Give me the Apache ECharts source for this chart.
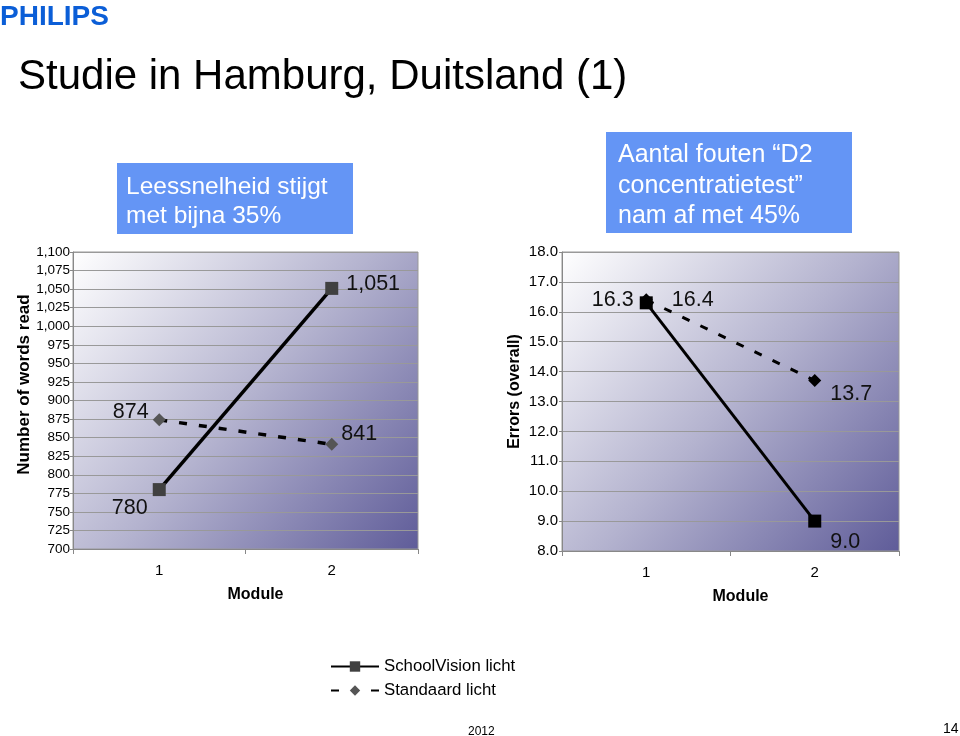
<!DOCTYPE html>
<html><head><meta charset="utf-8">
<script src="https://cdn.jsdelivr.net/npm/echarts@6/dist/echarts.min.js"></script>
<style>html,body{margin:0;padding:0;background:#fff}#c{width:960px;height:736px}</style>
</head><body><div id="c"></div>
<script>
const modules = ['1', '2'];
const seriesNames = ['SchoolVision licht', 'Standaard licht'];
const wordsSchoolVision = [780, 1051];
const wordsStandaard = [874, 841];
const errorsSchoolVision = [16.3, 9.0];
const errorsStandaard = [16.4, 13.7];

const FONT = '"Liberation Sans", Arial, sans-serif';
const chart = echarts.init(document.getElementById('c'));
const bg = new echarts.graphic.LinearGradient(0, 0, 1, 1, [
  {offset: 0, color: '#ffffff'}, {offset: 0.5, color: '#b4b3cf'}, {offset: 1, color: '#5f5c99'}
]);
function fmtThousands(v) { return String(v).replace(/\B(?=(\d{3})+(?!\d))/g, ','); }
function pts(values, offsets, fmt) {
  return values.map((v, i) => ({value: v, label: {position: offsets[i], formatter: () => fmt(v)}}));
}
const labelBase = {show: true, fontSize: 21.5, color: '#111', fontFamily: FONT};

const catAxis = (gi) => ({
  type: 'category', gridIndex: gi, data: modules, boundaryGap: true,
  name: 'Module', nameLocation: 'middle', nameGap: 38,
  nameTextStyle: {fontSize: 16, fontWeight: 'bold', color: '#000', fontFamily: FONT, padding: [0, 0, 0, 20]},
  axisLine: {lineStyle: {color: '#888'}}, axisTick: {show: true, lineStyle: {color: '#888'}},
  axisLabel: {fontSize: 15, color: '#000', margin: 14, fontFamily: FONT},
  splitLine: {show: false}
});

chart.setOption({
  animation: false,
  textStyle: {fontFamily: FONT},
  title: [
    {text: 'PHILIPS', left: 0, top: 3, padding: 0, textStyle: {fontSize: 28, fontWeight: 'bold', color: '#0b5ed7', fontFamily: FONT}},
    {text: 'Studie in Hamburg, Duitsland (1)', left: 18, top: 56, padding: 0, textStyle: {fontSize: 42, fontWeight: 'normal', color: '#000', fontFamily: FONT}},
    {text: '2012', left: 468, top: 726, padding: 0, textStyle: {fontSize: 12, fontWeight: 'normal', color: '#000', fontFamily: FONT}},
    {text: '14', left: 943, top: 722, padding: 0, textStyle: {fontSize: 14, fontWeight: 'normal', color: '#000', fontFamily: FONT}}
  ],
  graphic: [
    {type: 'rect', shape: {x: 117, y: 163, width: 236, height: 71}, style: {fill: '#6495f5'}},
    {type: 'text', x: 126, y: 173, style: {text: 'Leessnelheid stijgt\nmet bijna 35%', fill: '#fff', fontSize: 24.5, lineHeight: 29, fontFamily: FONT}},
    {type: 'rect', shape: {x: 606, y: 132, width: 246, height: 101}, style: {fill: '#6495f5'}},
    {type: 'text', x: 618, y: 140, style: {text: 'Aantal fouten \u201cD2\nconcentratietest\u201d\nnam af met 45%', fill: '#fff', fontSize: 25, lineHeight: 30.5, fontFamily: FONT}}
  ],
  legend: {
    orient: 'vertical', left: 325, top: 653, itemWidth: 48, itemHeight: 13, itemGap: 7,
    data: seriesNames,
    textStyle: {fontSize: 16.8, color: '#000', fontFamily: FONT}
  },
  grid: [
    {left: 73, top: 252, width: 345, height: 297, show: true, backgroundColor: bg, borderColor: '#999', borderWidth: 1},
    {left: 562, top: 252, width: 337, height: 299, show: true, backgroundColor: bg, borderColor: '#999', borderWidth: 1}
  ],
  xAxis: [catAxis(0), catAxis(1)],
  yAxis: [
    {type: 'value', gridIndex: 0, min: 700, max: 1100, interval: 25,
     name: 'Number of words read', nameLocation: 'middle', nameGap: 38,
     nameTextStyle: {fontSize: 17, fontWeight: 'bold', color: '#000', fontFamily: FONT, padding: [0, 0, 0, 32]},
     axisLine: {show: true, lineStyle: {color: '#888'}}, axisTick: {show: true, length: 3, lineStyle: {color: '#888'}},
     axisLabel: {fontSize: 13.5, color: '#000', margin: 3, formatter: fmtThousands, fontFamily: FONT},
     splitLine: {lineStyle: {color: '#999', width: 1}}},
    {type: 'value', gridIndex: 1, min: 8, max: 18, interval: 1,
     name: 'Errors (overall)', nameLocation: 'middle', nameGap: 39,
     nameTextStyle: {fontSize: 16, fontWeight: 'bold', color: '#000', fontFamily: FONT, padding: [0, 0, 0, 20]},
     axisLine: {show: true, lineStyle: {color: '#888'}}, axisTick: {show: true, length: 3, lineStyle: {color: '#888'}},
     axisLabel: {fontSize: 15, color: '#000', margin: 4, formatter: v => v.toFixed(1), fontFamily: FONT},
     splitLine: {lineStyle: {color: '#999', width: 1}}}
  ],
  series: [
    {name: seriesNames[0], type: 'line', xAxisIndex: 0, yAxisIndex: 0, z: 3,
     data: pts(wordsSchoolVision, [[-41, 14], [21, -9]], fmtThousands),
     symbol: 'rect', symbolSize: 13, itemStyle: {color: '#404040'},
     lineStyle: {color: '#000', width: 3.5}, label: labelBase},
    {name: seriesNames[1], type: 'line', xAxisIndex: 0, yAxisIndex: 0, z: 2,
     data: pts(wordsStandaard, [[-40, -12], [16, -15]], fmtThousands),
     symbol: 'diamond', symbolSize: 13, itemStyle: {color: '#555'},
     lineStyle: {color: '#000', width: 3.5, type: [8, 12]}, label: labelBase},
    {name: seriesNames[0], type: 'line', xAxisIndex: 1, yAxisIndex: 1, z: 3,
     data: pts(errorsSchoolVision, [[-48, -7], [22, 16]], v => v.toFixed(1)),
     symbol: 'rect', symbolSize: 13, itemStyle: {color: '#000'},
     lineStyle: {color: '#000', width: 3}, label: labelBase},
    {name: seriesNames[1], type: 'line', xAxisIndex: 1, yAxisIndex: 1, z: 2,
     data: pts(errorsStandaard, [[32, -4], [22, 9]], v => v.toFixed(1)),
     symbol: 'diamond', symbolSize: 13, itemStyle: {color: '#000'},
     lineStyle: {color: '#000', width: 3, type: [8, 12]}, label: labelBase}
  ]
});
</script></body></html>
